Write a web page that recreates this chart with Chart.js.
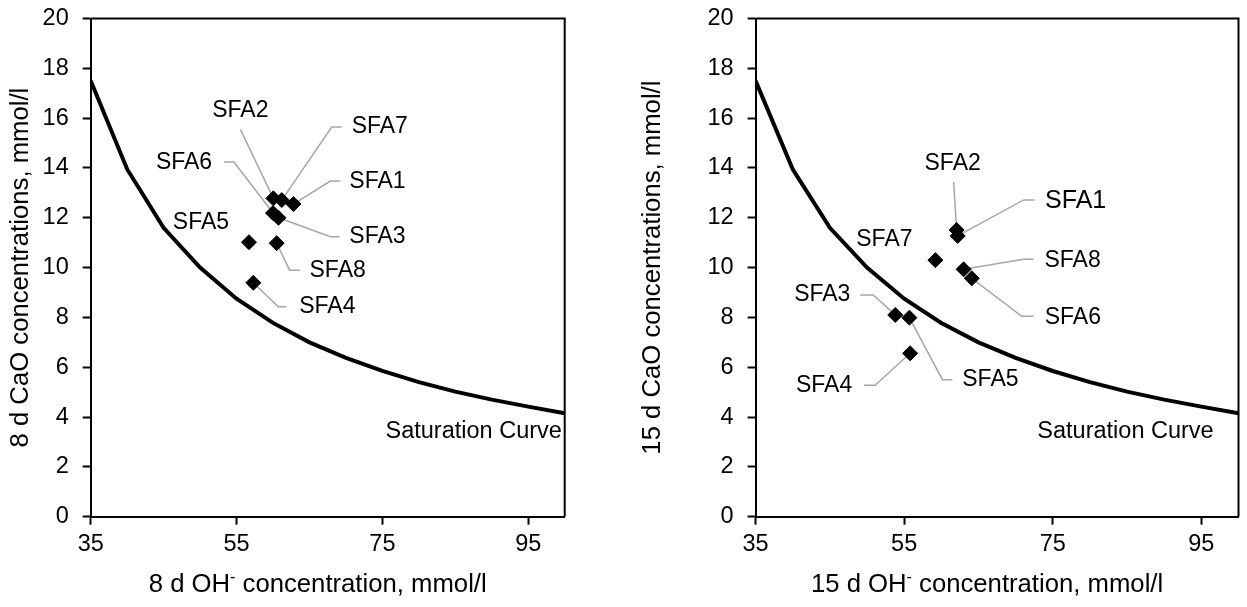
<!DOCTYPE html>
<html>
<head>
<meta charset="utf-8">
<script src="https://cdn.jsdelivr.net/npm/chart.js@4.4.1/dist/chart.umd.min.js"></script>
<style>
    body { margin: 0; background: #fff; width: 1247px; height: 607px; overflow: hidden; position: relative; }
    canvas { position: absolute; top: 0; }
</style>
</head>
<body>
<canvas id="graph8" width="620" height="607" style="left: 0px;"></canvas>
<canvas id="graph15" width="627" height="607" style="left: 620px;"></canvas>
<script>
// saturation curve (same on both charts)
var curveOH = [35, 40, 45, 50, 55, 60, 65, 70, 75, 80, 85, 90, 95, 100];
var curveCaO = [17.5, 13.95, 11.6, 10.0, 8.75, 7.78, 7.0, 6.38, 5.85, 5.4, 5.02, 4.7, 4.42, 4.15];

var samples = ['SFA1', 'SFA2', 'SFA3', 'SFA4', 'SFA5', 'SFA6', 'SFA7', 'SFA8'];

// 8 days
var oh8 = [62.8, 60.05, 60.75, 57.3, 56.7, 60.0, 61.2, 60.5];
var cao8 = [12.55, 12.78, 12.0, 9.39, 11.02, 12.19, 12.71, 10.98];

// 15 days
var oh15 = [62.2, 62.06, 53.8, 55.8, 55.7, 64.1, 59.2, 63.0];
var cao15 = [11.27, 11.51, 8.1, 6.56, 7.99, 9.57, 10.3, 9.93];

var xTicks = [35, 55, 75, 95];

var FONT = '"Liberation Sans", Arial, sans-serif';

// label placement, pixels relative to the marker: t = text centre, l = leader line
var notes8 = [
    { t: [84, -22], l: [[37, -23], [47, -23]] },
    { t: [-33, -88], l: [[-33, -69]] },
    { t: [99, 19], l: [[52, 19], [61, 19]] },
    { t: [74, 24], l: [[25, 24], [33, 24]] },
    { t: [-48, -20], l: [] },
    { t: [-89, -50], l: [[-39, -51], [-49, -51]] },
    { t: [98, -73], l: [[50, -73], [60, -73]] },
    { t: [61, 27], l: [[13, 27], [23, 27]] }
];

var notes15 = [
    { t: [118, -35], l: [[66, -36], [77, -36]], size: 25 },
    { t: [-4, -66], l: [[-3, -48]] },
    { t: [-73, -20], l: [[-22, -20], [-35, -20]] },
    { t: [-86, 32], l: [[-35, 32], [-46, 32]] },
    { t: [81, 62], l: [[33, 62], [43, 62]] },
    { t: [101, 39], l: [[50, 38], [62, 38]] },
    { t: [-51, -20], l: [] },
    { t: [109, -9], l: [[60, -10], [70, -10]] }
];

function GetPoints(xs, ys) {
    var pts = [];
    var i = 0;
    while (i < xs.length) {
        pts.push({ x: xs[i], y: ys[i] });
        i++;
    }
    return pts;
}

function NoOverflow(s) {
    s.paddingTop = 0;
    s.paddingBottom = 0;
    s.paddingLeft = 0;
    s.paddingRight = 0;
}

function Graphique(id, oh, cao, notes, jours, mise) {
    var ctx = document.getElementById(id).getContext('2d');

    var notesPlugin = {
        id: 'notes',
        beforeDatasetsDraw: function (chart) {
            var c = chart.ctx;
            var meta = chart.getDatasetMeta(1);
            c.save();
            c.strokeStyle = '#a6a6a6';
            c.lineWidth = 1.5;
            notes.forEach(function (n, i) {
                if (!n.l.length) return;
                var el = meta.data[i];
                c.beginPath();
                c.moveTo(el.x, el.y);
                n.l.forEach(function (p) { c.lineTo(el.x + p[0], el.y + p[1]); });
                c.stroke();
            });
            c.restore();
        },
        afterDraw: function (chart) {
            var c = chart.ctx;
            var a = chart.chartArea;
            var meta = chart.getDatasetMeta(1);
            c.save();
            // frame
            c.strokeStyle = '#000';
            c.lineWidth = 2;
            c.beginPath();
            c.moveTo(a.left, a.top);
            c.lineTo(a.right, a.top);
            c.lineTo(a.right, a.bottom);
            c.stroke();

            c.fillStyle = '#000';
            c.textAlign = 'center';
            c.textBaseline = 'middle';
            notes.forEach(function (n, i) {
                var el = meta.data[i];
                c.font = (n.size || 23) + 'px ' + FONT;
                c.fillText(samples[i], el.x + n.t[0], el.y + n.t[1]);
            });

            c.font = '23.5px ' + FONT;
            c.fillText('Saturation Curve', a.right - mise.satDx, a.bottom - 85);

            // x title with superscript
            var p1 = jours + ' d OH';
            var p2 = '-';
            var p3 = ' concentration, mmol/l';
            c.font = '25.7px ' + FONT;
            var w1 = c.measureText(p1).width;
            var w3 = c.measureText(p3).width;
            c.font = '16px ' + FONT;
            var w2 = c.measureText(p2).width;
            var x0 = (a.left + a.right) / 2 - 10 - (w1 + w2 + w3) / 2;
            var yb = mise.titleY;
            c.textAlign = 'left';
            c.textBaseline = 'alphabetic';
            c.font = '25.7px ' + FONT;
            c.fillText(p1, x0, yb);
            c.font = '16px ' + FONT;
            c.fillText(p2, x0 + w1, yb - 10);
            c.font = '25.7px ' + FONT;
            c.fillText(p3, x0 + w1 + w2, yb);
            c.restore();
        }
    };

    return new Chart(ctx, {
        type: 'scatter',
        data: {
            datasets: [
                {
                    label: 'Saturation Curve',
                    data: GetPoints(curveOH, curveCaO),
                    showLine: true,
                    borderColor: '#000',
                    borderWidth: 4,
                    pointRadius: 0,
                    tension: 0
                },
                {
                    label: jours + ' d',
                    data: GetPoints(oh, cao),
                    pointStyle: 'rectRot',
                    pointRadius: 7.5,
                    backgroundColor: '#000',
                    borderColor: '#000',
                    borderWidth: 1
                }
            ]
        },
        options: {
            responsive: false,
            animation: false,
            layout: { padding: { left: 0, top: 18.5, right: mise.padRight, bottom: 0 } },
            plugins: {
                legend: { display: false },
                tooltip: { enabled: false }
            },
            scales: {
                x: {
                    type: 'linear',
                    min: 35,
                    max: 100,
                    afterBuildTicks: function (s) {
                        s.ticks = xTicks.map(function (v) { return { value: v }; });
                    },
                    afterFit: function (s) { s.height = 90.3; NoOverflow(s); },
                    grid: { drawOnChartArea: false, tickLength: 8, tickColor: '#000', tickWidth: 2, color: '#000' },
                    border: { display: true, color: '#000', width: 2 },
                    ticks: { color: '#000', padding: 6, font: { family: FONT, size: 23.5 } }
                },
                y: {
                    min: 0,
                    max: 20,
                    ticks: { stepSize: 2, color: '#000', padding: 14, font: { family: FONT, size: 23.5 } },
                    afterFit: function (s) { s.width = mise.yWidth; NoOverflow(s); },
                    grid: { drawOnChartArea: false, tickLength: 8, tickColor: '#000', tickWidth: 2, color: '#000' },
                    border: { display: true, color: '#000', width: 2 },
                    title: {
                        display: true,
                        text: jours + ' d CaO concentrations, mmol/l',
                        color: '#000',
                        font: { family: FONT, size: 25.7 },
                        padding: { top: mise.titlePad, bottom: 0 }
                    }
                }
            }
        },
        plugins: [notesPlugin]
    });
}

Graphique('graph8', oh8, cao8, notes8, 8, { yWidth: 90.7, padRight: 55.3, titlePad: 5, satDx: 91, titleY: 592 });
Graphique('graph15', oh15, cao15, notes15, 15, { yWidth: 135.6, padRight: 4, titlePad: 17, satDx: 113, titleY: 592 });
</script>
</body>
</html>
